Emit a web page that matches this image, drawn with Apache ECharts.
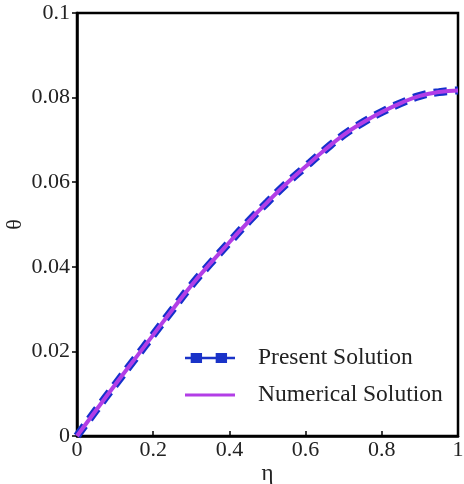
<!DOCTYPE html>
<html><head><meta charset="utf-8">
<script src="https://cdn.jsdelivr.net/npm/echarts@6/dist/echarts.min.js"></script>
<style>html,body{margin:0;padding:0;background:#fff}#c{width:464px;height:484px}</style>
</head><body><div id="c"></div>
<script>
var etaValues = [0, 0.05, 0.1, 0.15, 0.2, 0.25, 0.3, 0.35, 0.4, 0.45, 0.5, 0.55, 0.6, 0.65, 0.7, 0.75, 0.8, 0.85, 0.9, 0.95, 1.0];
var presentTheta = [0, 0.0061, 0.0121, 0.0180, 0.0239, 0.0298, 0.0356, 0.0408, 0.0458, 0.0507, 0.0553, 0.0597, 0.0637, 0.0676, 0.0712, 0.0741, 0.0766, 0.0787, 0.0804, 0.0813, 0.0817];
var numericalTheta = [0, 0.0061, 0.0121, 0.0180, 0.0239, 0.0298, 0.0356, 0.0408, 0.0458, 0.0507, 0.0553, 0.0597, 0.0637, 0.0676, 0.0712, 0.0741, 0.0766, 0.0787, 0.0804, 0.0813, 0.0817];
var seriesNames = ['Present Solution', 'Numerical Solution'];
var xTicks = ['0', '0.2', '0.4', '0.6', '0.8', '1'];
var yTicks = ['0', '0.02', '0.04', '0.06', '0.08', '0.1'];

function pairs(xs, ys) { return xs.map(function (x, i) { return [x, ys[i]]; }); }
var font = 'Liberation Serif';
var chart = echarts.init(document.getElementById('c'), null, {renderer: 'canvas'});
chart.setOption({
  backgroundColor: '#fff',
  animation: false,
  grid: {left: 77, right: 6, top: 13, bottom: 48, containLabel: false, outerBoundsMode: 'none', show: true, borderColor: '#000', borderWidth: 2.5, backgroundColor: 'transparent'},
  legend: {
    orient: 'vertical', left: 180, top: 341, itemGap: 13, itemWidth: 50, itemHeight: 12,
    textStyle: {fontFamily: font, fontSize: 23.5, color: '#222', padding: [0, 0, 0, 18]},
    data: [
      {name: seriesNames[0], icon: 'path://M3,5H47V7H3Z M8,1.5H18V10.5H8Z M30,1.5H40V10.5H30Z', itemStyle: {color: '#1a33c8'}},
      {name: seriesNames[1], icon: 'path://M0,4.5H50V7.5H0Z', itemStyle: {color: '#b23ee6'}}
    ]
  },
  xAxis: {
    type: 'value', min: 0, max: 1, interval: 0.2,
    name: 'η', nameLocation: 'middle', nameGap: 26, nameMoveOverlap: false,
    nameTextStyle: {fontFamily: font, fontSize: 23, color: '#222'},
    axisLine: {lineStyle: {color: '#000', width: 2.5}},
    axisTick: {inside: true, length: 5, lineStyle: {color: '#000', width: 1.5}},
    axisLabel: {fontFamily: font, fontSize: 22, color: '#222', margin: 3, formatter: function (v) { return xTicks[Math.round(v / 0.2)]; }},
    splitLine: {show: false}
  },
  yAxis: {
    type: 'value', min: 0, max: 0.1, interval: 0.02,
    name: 'θ', nameLocation: 'middle', nameGap: 51, nameRotate: 90, nameMoveOverlap: false,
    nameTextStyle: {fontFamily: font, fontSize: 22, color: '#222'},
    axisLine: {lineStyle: {color: '#000', width: 2.5}},
    axisTick: {inside: false, length: 5, lineStyle: {color: '#000', width: 1.5}},
    axisLabel: {fontFamily: font, fontSize: 22, color: '#222', margin: 7, formatter: function (v) { return yTicks[Math.round(v / 0.02)]; }},
    splitLine: {show: false}
  },
  series: [
    {
      name: seriesNames[0], type: 'line', smooth: true, showSymbol: false, symbol: 'none',
      data: pairs(etaValues, presentTheta),
      itemStyle: {color: '#1a33c8'},
      lineStyle: {color: '#1530cc', width: 8, type: [13, 8], cap: 'butt'},
      z: 2
    },
    {
      name: seriesNames[1], type: 'line', smooth: true, showSymbol: false, symbol: 'none',
      data: pairs(etaValues, numericalTheta),
      itemStyle: {color: '#b23ee6'},
      lineStyle: {color: '#b23ee6', width: 4},
      z: 3
    }
  ]
});
</script></body></html>
